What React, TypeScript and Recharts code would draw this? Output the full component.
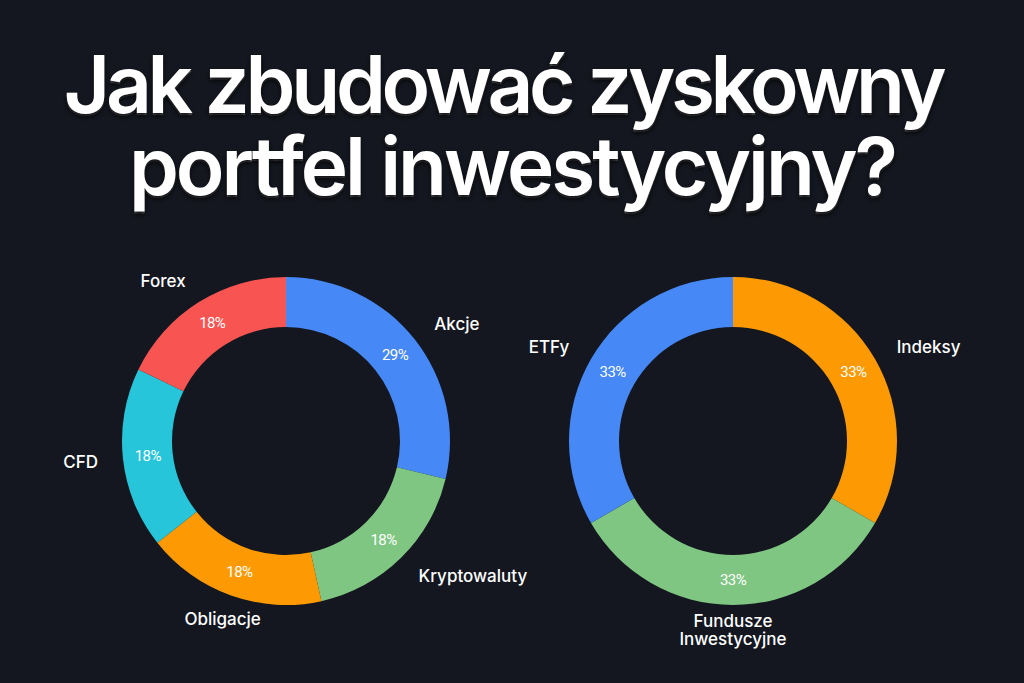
import { Cell, Pie, PieChart } from "recharts";

const title = ["Jak zbudować zyskowny", "portfel inwestycyjny?"];

const leftNames = ["Akcje", "Kryptowaluty", "Obligacje", "CFD", "Forex"];
const leftValues = [29, 18, 18, 18, 18];
const leftColors = ["#4688f6", "#80c683", "#fd9a03", "#27c5d9", "#f75452"];

const rightNames = ["Indeksy", "Fundusze Inwestycyjne", "ETFy"];
const rightValues = [1, 1, 1];
const rightColors = ["#fd9a03", "#80c683", "#4688f6"];

const leftData = leftNames.map((name, i) => ({ name, value: leftValues[i] }));
const rightData = rightNames.map((name, i) => ({ name, value: rightValues[i] }));

const RAD = Math.PI / 180;

// name outside the ring + percentage in the middle of the ring
function renderLabel(props: any) {
  const { cx, cy, midAngle, innerRadius, outerRadius, percent, name } = props;
  const cos = Math.cos(-midAngle * RAD);
  const sin = Math.sin(-midAngle * RAD);
  const mr = (innerRadius + outerRadius) / 2;
  const px = cx + mr * cos;
  const py = cy + mr * sin;
  const or = outerRadius + 25;
  const nx = cx + or * cos;
  const ny = cy + or * sin;
  const anchor = Math.abs(cos) < 0.4 ? "middle" : cos > 0 ? "start" : "end";
  const lines = name.length > 14 ? name.split(" ") : [name];
  return (
    <g>
      <text x={px} y={py} fill="#fff" fontSize={15} letterSpacing={-0.6} fontFamily="Roboto, sans-serif" textAnchor="middle" dominantBaseline="central">
        {Math.round(percent * 100)}%
      </text>
      <text x={nx} y={ny} fill="#fff" fontSize={17} fontWeight={500} fontFamily="Inter, sans-serif" textAnchor={anchor} dominantBaseline="central">
        {lines.map((l: string, i: number) => (
          <tspan key={l} x={nx} dy={i === 0 ? -(lines.length - 1) * 9 : 18}>
            {l}
          </tspan>
        ))}
      </text>
    </g>
  );
}

const titleLine = {
  height: 82,
  lineHeight: "82px",
  whiteSpace: "nowrap" as const,
};

export default function App() {
  return (
    <div style={{ position: "absolute", left: 0, top: 0, width: 1024, height: 683, background: "#14171f", overflow: "hidden" }}>
      <div
        style={{
          position: "absolute",
          top: 43,
          left: 0,
          width: 1024,
          textAlign: "center",
          color: "#fff",
          fontFamily: "Inter, sans-serif",
          fontWeight: 600,
          fontSize: 80,
          textShadow: "0 3px 4px rgba(0,0,0,0.9), 0 2px 1px rgba(170,170,180,0.6)",
        }}
      >
        <div style={{ ...titleLine, letterSpacing: -4.3, marginLeft: -18 }}>{title[0]}</div>
        <div style={{ ...titleLine, letterSpacing: -3 }}>{title[1]}</div>
      </div>
      <div style={{ position: "absolute", left: 0, top: 0 }}>
        <PieChart width={1024} height={683} margin={{ top: 0, right: 0, bottom: 0, left: 0 }}>
          <Pie
            data={leftData}
            dataKey="value"
            nameKey="name"
            cx={286}
            cy={441}
            innerRadius={114}
            outerRadius={164}
            startAngle={90}
            endAngle={-270}
            stroke="none"
            labelLine={false}
            label={renderLabel}
            isAnimationActive={false}
          >
            {leftData.map((d, i) => (
              <Cell key={d.name} fill={leftColors[i]} />
            ))}
          </Pie>
          <Pie
            data={rightData}
            dataKey="value"
            nameKey="name"
            cx={733}
            cy={441}
            innerRadius={114}
            outerRadius={164}
            startAngle={90}
            endAngle={-270}
            stroke="none"
            labelLine={false}
            label={renderLabel}
            isAnimationActive={false}
          >
            {rightData.map((d, i) => (
              <Cell key={d.name} fill={rightColors[i]} />
            ))}
          </Pie>
        </PieChart>
      </div>
    </div>
  );
}
